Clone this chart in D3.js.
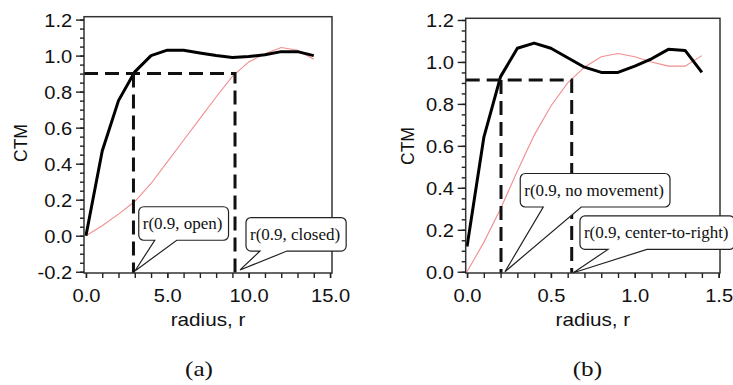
<!DOCTYPE html>
<html>
<head>
<meta charset="utf-8">
<script src="https://cdn.jsdelivr.net/npm/d3@7/dist/d3.min.js"></script>
<style>
  body { margin: 0; background: #fff; }
  svg { display: block; }
  .axis text { font-family: "Liberation Sans", Arial, sans-serif; font-size: 17.5px; fill: #111; }
  .axis line { stroke: #222; stroke-width: 1.4; }
  .axis path { display: none; }
  .ylabel, .xlabel { font-family: "Liberation Sans", Arial, sans-serif; fill: #111; }
  .callout text, .caption { font-family: "Liberation Serif", "Times New Roman", serif; fill: #111; }
</style>
</head>
<body>
<svg id="chart" width="733" height="385"></svg>
<script>
// ---- data ----
const radiusA = [0, 1, 2, 3, 4, 5, 6, 7, 8, 9, 10, 11, 12, 13, 14];
const ctmOpen = [0.0, 0.47, 0.75, 0.91, 1.0, 1.03, 1.03, 1.015, 1.0, 0.99, 0.995, 1.005, 1.022, 1.022, 1.0];
const ctmClosed = [0.0, 0.055, 0.12, 0.19, 0.29, 0.41, 0.53, 0.65, 0.77, 0.885, 0.965, 1.01, 1.045, 1.03, 0.98];

const radiusB = [0, 0.1, 0.2, 0.3, 0.4, 0.5, 0.6, 0.7, 0.8, 0.9, 1.0, 1.1, 1.2, 1.3, 1.4];
const ctmNoMove = [0.12, 0.64, 0.93, 1.065, 1.09, 1.065, 1.02, 0.975, 0.95, 0.95, 0.98, 1.015, 1.06, 1.055, 0.95];
const ctmC2R = [0.0, 0.14, 0.3, 0.48, 0.65, 0.79, 0.9, 0.975, 1.025, 1.04, 1.025, 1.0, 0.98, 0.98, 1.03];

const xTicksA = [0, 5, 10, 15];
const xTicksB = [0, 0.5, 1.0, 1.5];
const yTicksA = [-0.2, 0, 0.2, 0.4, 0.6, 0.8, 1.0, 1.2];
const yTicksB = [0, 0.2, 0.4, 0.6, 0.8, 1.0, 1.2];

// r(0.9) marks: level and crossing radii
const levelA = 0.9, crossA = [2.92, 9.16];
const levelB = 0.914, crossB = [0.2025, 0.624];

const calloutLabelsA = ["r(0.9, open)", "r(0.9, closed)"];
const calloutTextA = [[3.49, 0.036], [10.08, -0.024]];
const calloutTipA = [[3.01, -0.196], [9.47, -0.19]];
const calloutBaseA = [[12, 34], [10, 37]];

const calloutLabelsB = ["r(0.9, no movement)", "r(0.9, center-to-right)"];
const calloutTextB = [[0.341, 0.361], [0.697, 0.159]];
const calloutTipB = [[0.226, 0.0], [0.634, -0.005]];
const calloutBaseB = [[19, 57], [24, 63]];

const svg = d3.select("#chart");

function calloutPath(x0, y0, w, h, rad, b1, b2, tx, ty) {
    return `M${x0 + rad},${y0} H${x0 + w - rad} A${rad},${rad} 0 0 1 ${x0 + w},${y0 + rad}` +
        ` V${y0 + h - rad} A${rad},${rad} 0 0 1 ${x0 + w - rad},${y0 + h}` +
        ` H${b2} L${tx},${ty} L${b1},${y0 + h}` +
        ` H${x0 + rad} A${rad},${rad} 0 0 1 ${x0},${y0 + h - rad} V${y0 + rad}` +
        ` A${rad},${rad} 0 0 1 ${x0 + rad},${y0} Z`;
}

function drawPanel(p) {
    const x = d3.scaleLinear().domain(p.xDomain).range([p.left, p.right]);
    const y = d3.scaleLinear().domain(p.yDomain).range([p.bottom, p.top]);
    const g = svg.append("g");

    // series
    const line = d3.line().x(d => x(d[0])).y(d => y(d[1]));
    g.append("path")
        .datum(p.radius.map((r, i) => [r, p.red[i]]))
        .attr("d", line).attr("fill", "none")
        .attr("stroke", "#f08e8e").attr("stroke-width", 1.1);
    g.append("path")
        .datum(p.radius.map((r, i) => [r, p.black[i]]))
        .attr("d", line).attr("fill", "none")
        .attr("stroke", "#000").attr("stroke-width", 3)
        .attr("stroke-linejoin", "round");

    // dashed r(0.9) guides
    const dash = g.append("g").attr("fill", "none").attr("stroke", "#111")
        .attr("stroke-width", 3).attr("stroke-dasharray", "14,7");
    dash.append("path").attr("d",
        `M${x(p.xDomain[0])},${y(p.level)} H${x(p.cross[1])} V${y(p.yDomain[0])}`);
    dash.append("path").attr("d",
        `M${x(p.cross[0])},${y(p.level)} V${y(p.yDomain[0])}`);

    // frame
    g.append("rect")
        .attr("x", p.left).attr("y", p.top)
        .attr("width", p.right - p.left).attr("height", p.bottom - p.top)
        .attr("fill", "none").attr("stroke", "#333").attr("stroke-width", 1.5);

    // axes: major + minor ticks, outside the frame
    const yAx = g.append("g").attr("class", "axis")
        .attr("transform", `translate(${p.left},0)`)
        .call(d3.axisLeft(y).tickValues(p.yTicks).tickSize(8).tickFormat(d => d.toFixed(1)));
    yAx.selectAll("text").attr("x", -10.2).attr("dy", "0.4em").attr("transform", "scale(1.15,1)");
    g.append("g").attr("class", "axis")
        .attr("transform", `translate(${p.left},0)`)
        .call(d3.axisLeft(y).tickValues(d3.range(p.yTicks[0], p.yTicks[p.yTicks.length - 1] + 0.001, 0.05))
            .tickSize(4).tickFormat(""));

    const xAx = g.append("g").attr("class", "axis")
        .attr("transform", `translate(0,${p.bottom})`)
        .call(d3.axisBottom(x).tickValues(p.xTicks).tickSize(5).tickFormat(d => d.toFixed(1)));
    xAx.selectAll("text").attr("y", 16.5).attr("dy", "0.71em").attr("transform", "scale(1.15,1)");
    g.append("g").attr("class", "axis")
        .attr("transform", `translate(0,${p.bottom})`)
        .call(d3.axisBottom(x).tickValues(d3.range(0, p.xTicks[p.xTicks.length - 1] + p.xMinor / 2, p.xMinor))
            .tickSize(5).tickFormat(""));

    // axis titles
    g.append("text").attr("class", "ylabel")
        .attr("transform", `translate(${p.ctmX},${p.ctmY}) rotate(-90)`)
        .attr("text-anchor", "middle").attr("dy", "0.35em")
        .style("font-size", "17.5px").text("CTM");
    g.append("text").attr("class", "xlabel")
        .attr("transform", `translate(${(p.left + p.right) / 2},326) scale(1.15,1)`)
        .attr("text-anchor", "middle")
        .style("font-size", "18px").text("radius, r");
    g.append("text").attr("class", "caption")
        .attr("transform", `translate(${(p.left + p.right) / 2 + p.capShift},376) scale(1.2,1)`)
        .attr("text-anchor", "middle")
        .style("font-size", "21px").text(p.caption);

    // callouts
    p.labels.forEach((lab, i) => {
        const c = g.append("g").attr("class", "callout");
        const tx = x(p.textPos[i][0]), ty = y(p.textPos[i][1]);
        const t = c.append("text").attr("x", tx).attr("y", ty)
            .style("font-size", "17px").text(lab);
        const w = t.node().getComputedTextLength();
        const bx = tx - 4, by = ty - 22.5, bw = w + 10, bh = 33.5;
        c.insert("path", "text")
            .attr("d", calloutPath(bx, by, bw, bh, 5,
                tx + p.base[i][0], tx + p.base[i][1],
                x(p.tip[i][0]), y(p.tip[i][1])))
            .attr("fill", "#fff").attr("stroke", "#222").attr("stroke-width", 1.2);
    });
}

drawPanel({
    left: 84, right: 332, top: 16.7, bottom: 273,
    xDomain: [-0.12, 15.12], yDomain: [-0.207, 1.216],
    radius: radiusA, black: ctmOpen, red: ctmClosed,
    xTicks: xTicksA, xMinor: 1, yTicks: yTicksA,
    level: levelA, cross: crossA,
    labels: calloutLabelsA, textPos: calloutTextA, tip: calloutTipA, base: calloutBaseA,
    ctmX: 21, ctmY: 143, caption: "(a)", capShift: -9
});

drawPanel({
    left: 465.7, right: 720, top: 18.3, bottom: 273,
    xDomain: [-0.008, 1.508], yDomain: [-0.006, 1.208],
    radius: radiusB, black: ctmNoMove, red: ctmC2R,
    xTicks: xTicksB, xMinor: 0.1, yTicks: yTicksB,
    level: levelB, cross: crossB,
    labels: calloutLabelsB, textPos: calloutTextB, tip: calloutTipB, base: calloutBaseB,
    ctmX: 408, ctmY: 146, caption: "(b)", capShift: -5.5
});
</script>
</body>
</html>
